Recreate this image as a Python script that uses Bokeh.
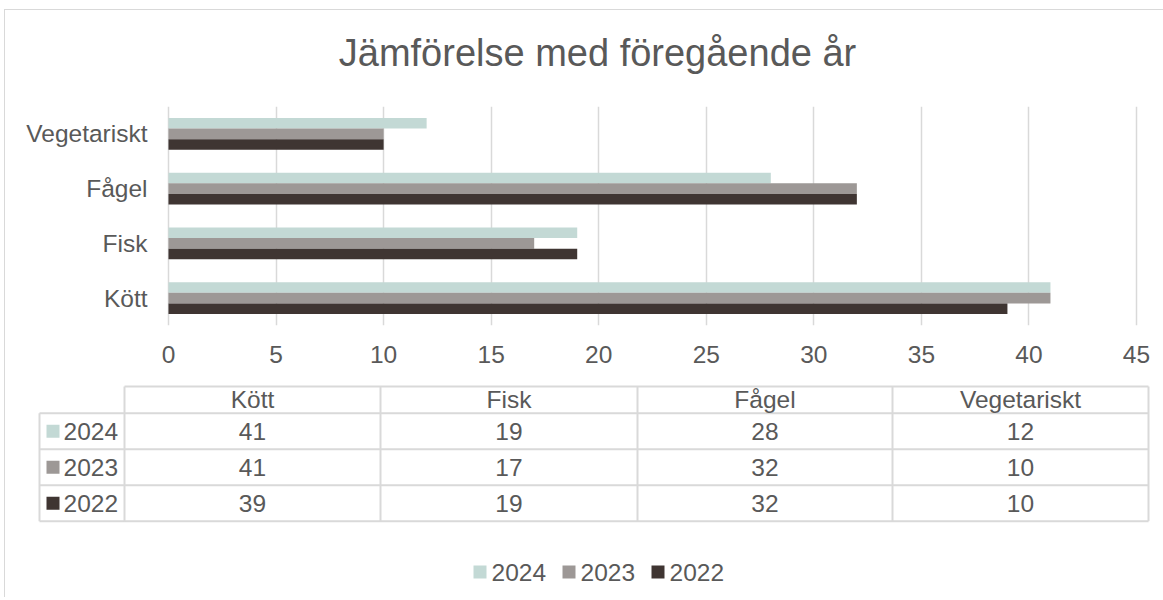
from bokeh.plotting import figure
from bokeh.models import Range1d, FixedTicker
from bokeh.layouts import column
from bokeh.embed import file_html
from bokeh.resources import INLINE
from bokeh.core.properties import value

# ---------------- data ----------------
title_text = "Jämförelse med föregående år"
categories = ["Kött", "Fisk", "Fågel", "Vegetariskt"]
years = ["2024", "2023", "2022"]
v2024 = [41, 19, 28, 12]
v2023 = [41, 17, 32, 10]
v2022 = [39, 19, 32, 10]
x_ticks = [0, 5, 10, 15, 20, 25, 30, 35, 40, 45]

# ---------------- style ----------------
FONT = "Liberation Sans"
FS = "24.5px"
TXT = "#595959"
GRID = "#D9D9D9"
colors = ["#C3D9D5", "#9D9896", "#3F3532"]
series = [v2024, v2023, v2022]
BAR_H = 0.192
offsets = [BAR_H, 0.0, -BAR_H]

W = 1158           # content width (page x 5 .. 1163)
X0 = 5             # page x of content left
# plot-area mapping: value 0 -> page x 168, value 45 -> page x 1136
px_per_unit = (1136 - 168) / 45.0
xr_start = -(168 - X0) / px_per_unit
xr_end = 45 + (X0 + W - 1136) / px_per_unit


def blank(fig):
    fig.outline_line_color = None
    fig.grid.visible = False
    fig.background_fill_color = "white"
    fig.border_fill_color = "white"


# ---------------- title strip ----------------
pT = figure(width=W, height=96, x_range=Range1d(X0, X0 + W), y_range=Range1d(106, 10),
            output_backend="svg", toolbar_location=None, x_axis_type=None, y_axis_type=None,
            min_border=0)
blank(pT)
pT.text(x=[597], y=[52], text=[title_text], text_align="center", text_baseline="alphabetic",
        text_font=value(FONT), text_font_size="38px", text_color=TXT)

# ---------------- bar chart ----------------
pA = figure(width=W, height=277, x_range=Range1d(xr_start, xr_end), y_range=Range1d(0.5, 4.5),
            output_backend="svg", toolbar_location=None, y_axis_type=None,
            min_border_left=0, min_border_right=0, min_border_top=0, min_border_bottom=58)
pA.outline_line_color = None
pA.background_fill_color = "white"
pA.border_fill_color = "white"

pos = list(range(1, len(categories) + 1))
for vals, col, off in zip(series, colors, offsets):
    pA.hbar(y=[p + off for p in pos], left=0, right=vals, height=BAR_H,
            fill_color=col, line_color=None)

# category labels, right-aligned left of the value axis
pA.text(x=[-21 / px_per_unit] * len(categories), y=pos, text=categories,
        text_align="right", text_baseline="middle", text_font=value(FONT),
        text_font_size=FS, text_color=TXT)

pA.xaxis.ticker = FixedTicker(ticks=x_ticks)
pA.xgrid.ticker = FixedTicker(ticks=x_ticks)
pA.xgrid.grid_line_color = GRID
pA.xgrid.grid_line_width = 1.5
pA.ygrid.visible = False
ax = pA.xaxis[0]
ax.axis_line_color = None
ax.major_tick_line_color = None
ax.minor_tick_line_color = None
ax.major_tick_out = 0
ax.major_tick_in = 0
ax.major_label_text_font = FONT
ax.major_label_text_font_size = FS
ax.major_label_text_color = TXT
ax.major_label_standoff = 20

# ---------------- data table + legend ----------------
pB = figure(width=W, height=214, x_range=Range1d(X0, X0 + W), y_range=Range1d(597, 383),
            output_backend="svg", toolbar_location=None, x_axis_type=None, y_axis_type=None,
            min_border=0)
blank(pB)

col_edges = [124, 380, 637, 892, 1148]
row_edges = [412.7, 448.7, 484.7, 520.7]
header_top = 386
label_left = 39

x0s, y0s, x1s, y1s = [], [], [], []
x0s.append(col_edges[0]); x1s.append(col_edges[-1]); y0s.append(header_top); y1s.append(header_top)
for r in row_edges:
    x0s.append(label_left); x1s.append(col_edges[-1]); y0s.append(r); y1s.append(r)
x0s.append(label_left); x1s.append(label_left); y0s.append(row_edges[0]); y1s.append(row_edges[-1])
for c in col_edges:
    x0s.append(c); x1s.append(c); y0s.append(header_top); y1s.append(row_edges[-1])
pB.segment(x0=x0s, y0=y0s, x1=x1s, y1=y1s, line_color=GRID, line_width=2)

col_centers = [(a + b) / 2 for a, b in zip(col_edges[:-1], col_edges[1:])]
row_centers = [(a + b) / 2 for a, b in zip(row_edges[:-1], row_edges[1:])]
head_y = (header_top + row_edges[0]) / 2

pB.text(x=col_centers, y=[head_y] * len(categories), text=categories,
        text_align="center", text_baseline="middle", text_font=value(FONT),
        text_font_size=FS, text_color=TXT)

for yr, vals, col, ry in zip(years, series, colors, row_centers):
    pB.text(x=col_centers, y=[ry] * len(vals), text=[str(v) for v in vals],
            text_align="center", text_baseline="middle", text_font=value(FONT),
            text_font_size=FS, text_color=TXT)
    pB.rect(x=[52.5], y=[ry], width=13, height=13, fill_color=col, line_color=None)
    pB.text(x=[63], y=[ry], text=[yr], text_align="left", text_baseline="middle",
            text_font=value(FONT), text_font_size=FS, text_color=TXT)

# bottom legend
leg_sq_x = [479.5, 568.5, 657.5]
leg_y = 571.5
for yr, col, sx in zip(years, colors, leg_sq_x):
    pB.rect(x=[sx], y=[leg_y], width=13, height=13, fill_color=col, line_color=None)
    pB.text(x=[sx + 11.5], y=[leg_y], text=[yr], text_align="left", text_baseline="middle",
            text_font=value(FONT), text_font_size=FS, text_color=TXT)

layout = column(pT, pA, pB, spacing=0,
                styles={"margin-left": "4px", "margin-top": "9px",
                        "border-left": "1px solid #D9D9D9", "border-top": "1px solid #D9D9D9"})

open("out.html", "w").write(file_html(layout, INLINE))
